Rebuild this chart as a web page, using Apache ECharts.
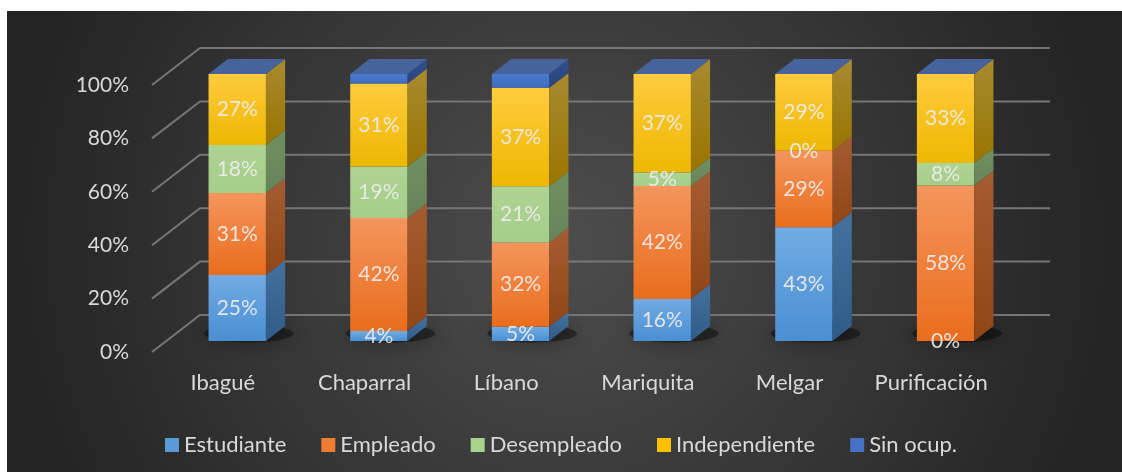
<!DOCTYPE html>
<html><head><meta charset="utf-8">
<script src="https://cdn.jsdelivr.net/npm/echarts@6/dist/echarts.min.js"></script>
<style>html,body{margin:0;padding:0;background:#fff}#c{width:1122px;height:472px}</style>
</head><body><div id="c"></div>
<script>
// ---- data ----
const categories = ['Ibagué', 'Chaparral', 'Líbano', 'Mariquita', 'Melgar', 'Purificación'];
const seriesNames = ['Estudiante', 'Empleado', 'Desempleado', 'Independiente', 'Sin ocup.'];
const estudiante    = [24.7, 3.7, 5.3, 15.7, 42.6, 0];
const empleado      = [30.7, 42.3, 31.6, 42.3, 28.6, 58.2];
const desempleado   = [18.0, 19.3, 21.0, 5.1, 0, 8.4];
const independiente = [26.6, 31.1, 36.9, 36.9, 28.8, 33.4];
const sinOcup       = [0, 3.6, 5.2, 0, 0, 0];
const yTicks = [0, 20, 40, 60, 80, 100];

// ---- styles ----
const FONT = 'Lato';
const DX = 48, DY = -37;          // full floor depth vector
const F0 = 0.30, F1 = 0.70;       // bar front / back depth fractions
const BAR_RATIO = 0.405;
const palette = [
  { front: ['#72abe3', '#4a8fd2'], side: ['#44719f', '#2f5b88'], legend: '#5b9bd5' },
  { front: ['#f5955c', '#e96d1c'], side: ['#a55c31', '#904616'], legend: '#ed7d31' },
  { front: ['#aed392', '#a6cd8a'], side: ['#71905f', '#66845a'], legend: '#a9d18e' },
  { front: ['#ffcb3d', '#edb800'], side: ['#a88a30', '#997500'], legend: '#ffc000' },
  { front: ['#4a7bd0', '#3f6cc0'], side: ['#2f4f8c', '#2a4680'], legend: '#4472c4', top: '#46639c' }
];
const valueSets = [estudiante, empleado, desempleado, independiente, sinOcup];

function vgrad(c) {
  return { type: 'linear', x: 0, y: 0, x2: 0, y2: 1, colorStops: [{ offset: 0, color: c[0] }, { offset: 1, color: c[1] }] };
}

function barGeom(api, cat, start, end) {
  const band = api.size([1, 0])[0];
  const w = band * BAR_RATIO;
  const pS = api.coord([cat, start]);
  const pE = api.coord([cat, end]);
  const ox = DX * F0, oy = DY * F0;
  return {
    xl: pS[0] - w / 2 + ox, xr: pS[0] + w / 2 + ox,
    yb: pS[1] + oy, yt: pE[1] + oy,
    sx: DX * (F1 - F0), sy: DY * (F1 - F0)
  };
}

const cum = categories.map(() => 0);
const barSeries = seriesNames.map((name, si) => {
  const vals = valueSets[si];
  const data = vals.map((v, ci) => {
    const s = cum[ci];
    cum[ci] += v;
    return [ci, s, s + v, v];
  });
  const pal = palette[si];
  const isLast = si === seriesNames.length - 1;
  return {
    name: name,
    type: 'custom',
    itemStyle: { color: pal.legend },
    encode: { x: 0, y: [1, 2] },
    data: data,
    renderItem: function (params, api) {
      const g = barGeom(api, api.value(0), api.value(1), api.value(2));
      const children = [];
      if (g.yb - g.yt > 0.01) {
        children.push({
          type: 'rect', z2: 1,
          shape: { x: g.xl, y: g.yt, width: g.xr - g.xl, height: g.yb - g.yt },
          style: { fill: vgrad(pal.front) }
        });
        children.push({
          type: 'polygon', z2: 1,
          shape: { points: [[g.xr, g.yt], [g.xr + g.sx, g.yt + g.sy], [g.xr + g.sx, g.yb + g.sy], [g.xr, g.yb]] },
          style: { fill: vgrad(pal.side) }
        });
      }
      if (isLast) {
        children.push({
          type: 'polygon', z2: 2,
          shape: { points: [[g.xl, g.yt], [g.xr, g.yt], [g.xr + g.sx, g.yt + g.sy], [g.xl + g.sx, g.yt + g.sy]] },
          style: { fill: pal.top }
        });
      } else {
        children.push({
          type: 'text', z2: 50,
          style: {
            text: Math.round(api.value(3)) + '%',
            x: (g.xl + g.xr) / 2, y: (g.yt + g.yb) / 2,
            align: 'center', verticalAlign: 'middle',
            fill: 'rgba(236,236,236,0.92)', fontSize: 21, fontFamily: FONT
          }
        });
      }
      return { type: 'group', children: children };
    }
  };
});

const gridSeries = {
  name: 'grid', type: 'custom', silent: true, z: 1,
  data: yTicks.map(v => [0, v]),
  encode: { x: 0, y: 1 },
  renderItem: function (params, api) {
    const cs = params.coordSys;
    const y = api.coord([0, api.value(1)])[1];
    const x0 = cs.x, x1 = cs.x + cs.width;
    return {
      type: 'polyline',
      shape: { points: [[x0, y], [x0 + DX, y + DY], [x1 + DX, y + DY]] },
      style: { stroke: '#767676', lineWidth: 2, fill: null }
    };
  }
};

const shadowSeries = {
  name: 'shadow', type: 'custom', silent: true, z: 1,
  data: categories.map((c, i) => [i, 0]),
  encode: { x: 0, y: 1 },
  renderItem: function (params, api) {
    const g = barGeom(api, api.value(0), 0, 0);
    return {
      type: 'ellipse', z2: 5,
      shape: { cx: (g.xl + g.xr) / 2 + g.sx * 0.6, cy: g.yb + g.sy * 0.5, rx: (g.xr - g.xl) / 2 + 16, ry: 9 },
      style: { fill: 'rgba(0,0,0,0.4)', shadowBlur: 20, shadowColor: 'rgba(0,0,0,0.9)' }
    };
  }
};

const chart = echarts.init(document.getElementById('c'), null, { renderer: 'canvas' });
chart.setOption({
  animation: false,
  backgroundColor: '#ffffff',
  graphic: [{
    type: 'rect', z: -10, silent: true,
    shape: { x: 7, y: 11, width: 1115, height: 461 },
    style: { fill: { type: 'radial', x: 0.5, y: 0.5, r: 1.2, colorStops: [{ offset: 0, color: '#4d4d4d' }, { offset: 1, color: '#242424' }] } }
  }],
  grid: { left: 152, right: 120, top: 85, bottom: 120 },
  xAxis: {
    type: 'category', data: categories,
    axisLine: { show: false }, axisTick: { show: false }, splitLine: { show: false },
    axisLabel: { color: '#d9d9d9', fontSize: 22, fontFamily: FONT, margin: 20, interval: 0 }
  },
  yAxis: {
    type: 'value', min: 0, max: 100, interval: 20,
    axisLine: { show: false }, axisTick: { show: false }, splitLine: { show: false },
    axisLabel: { formatter: '{value}%', color: '#d9d9d9', fontSize: 21, fontFamily: FONT, margin: 23 }
  },
  legend: {
    left: 'center', top: 429, itemWidth: 14, itemHeight: 14, itemGap: 35,
    icon: 'rect',
    textStyle: { color: '#d9d9d9', fontSize: 22, fontFamily: FONT },
    data: seriesNames.map((n, i) => ({ name: n, itemStyle: { color: palette[i].legend } }))
  },
  series: [gridSeries, shadowSeries].concat(barSeries)
});
</script>
</body></html>
